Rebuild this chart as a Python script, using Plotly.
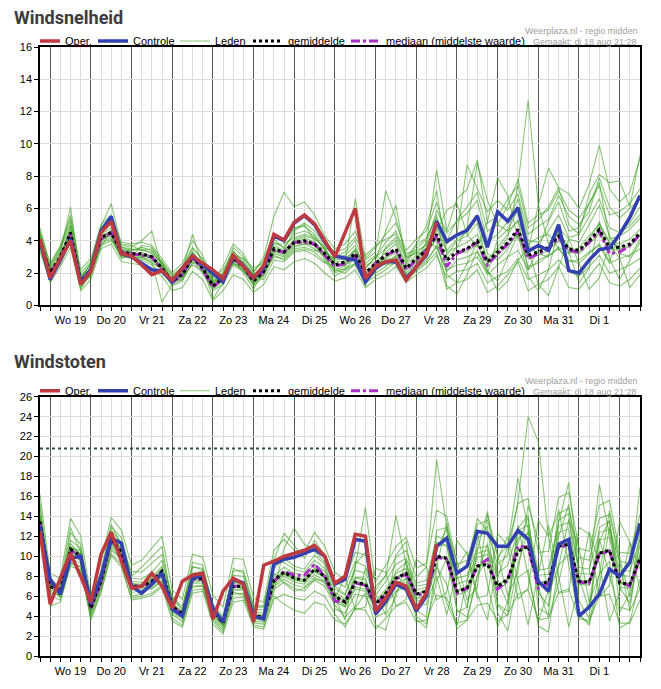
import pandas as pd
import plotly.graph_objects as go

# tijdstappen van 6 uur, di 18 aug 18:00 t/m wo 2 sep 12:00
start = "2020-08-18 18:00"
n_steps = 60
times = pd.date_range(start, periods=n_steps, freq="6h")

day_labels = ["Wo 19", "Do 20", "Vr 21", "Za 22", "Zo 23", "Ma 24", "Di 25",
              "Wo 26", "Do 27", "Vr 28", "Za 29", "Zo 30", "Ma 31", "Di 1"]
days = pd.date_range("2020-08-19", periods=len(day_labels), freq="D")

# ---- Windsnelheid (Bft) ----
speed_oper = [4.1, 1.7, 2.9, 4.0, 1.3, 2.1, 4.5, 5.2, 3.2, 3.05, 2.5, 1.9, 2.15, 1.55, 2.3, 3.05, 2.6, 2.2, 1.65, 3.1,
              2.4, 1.7, 2.45, 4.4, 4.05, 5.15, 5.6, 5.05, 4.0, 3.0, 4.5, 6.0, 1.65, 2.4, 2.7, 2.8, 1.55, 2.4, 3.2, 5.15]
speed_ctrl = [4.0, 1.6, 2.8, 4.1, 1.4, 2.2, 4.6, 5.5, 3.2, 3.0, 2.6, 2.2, 2.1, 1.45, 2.3, 3.05, 2.5, 2.0, 1.45, 3.05,
              2.45, 1.7, 2.3, 4.3, 4.0, 5.1, 5.55, 5.0, 3.9, 3.05, 2.9, 2.8, 1.45, 2.3, 2.7, 2.7, 1.65, 2.4, 3.1, 5.2,
              3.95, 4.35, 4.65, 5.55, 3.6, 5.8, 5.2, 6.05, 3.35, 3.7, 3.4, 5.0, 2.15, 2.0, 2.8, 3.45, 3.55, 4.4, 5.45, 6.8]
speed_mean = [4.0, 2.0, 3.0, 4.5, 1.5, 2.2, 4.2, 4.5, 3.3, 3.2, 3.2, 3.0, 2.3, 1.5, 1.9, 3.0, 2.3, 1.2, 1.7, 2.9,
              2.4, 1.5, 2.1, 3.5, 3.3, 3.9, 4.0, 3.8, 3.2, 2.5, 2.7, 3.2, 2.0, 2.6, 3.1, 3.5, 2.3, 2.9, 3.4, 4.4,
              2.8, 3.3, 3.5, 4.0, 2.7, 3.3, 3.9, 4.7, 3.1, 3.3, 3.6, 4.3, 3.5, 3.4, 4.0, 4.7, 3.6, 3.6, 3.8, 4.5]
speed_median = [4.0, 2.0, 3.0, 4.4, 1.5, 2.2, 4.1, 4.5, 3.3, 3.2, 3.1, 3.0, 2.2, 1.4, 1.9, 3.0, 2.2, 1.1, 1.7, 2.9,
                2.4, 1.5, 2.1, 3.4, 3.3, 3.9, 3.9, 3.8, 3.1, 2.4, 2.6, 3.1, 1.9, 2.6, 3.1, 3.4, 2.2, 2.8, 3.4, 4.3,
                2.4, 3.2, 3.5, 3.9, 2.5, 3.2, 3.8, 4.6, 2.9, 3.2, 3.5, 4.2, 3.4, 3.3, 3.9, 4.6, 3.2, 3.3, 3.7, 4.4]
speed_members = [
    [4.2, 2.3, 3.4, 5.0, 1.8, 2.5, 4.6, 5.1, 3.6, 3.5, 3.4, 3.3, 2.6, 1.8, 2.4, 3.6, 2.8, 1.5, 2.0, 3.4,
     2.6, 1.3, 2.5, 4.3, 4.0, 4.8, 4.9, 4.4, 3.6, 2.2, 2.0, 2.6, 1.4, 2.1, 3.6, 4.2, 2.9, 3.3, 3.0, 5.2,
     3.4, 4.1, 4.5, 5.4, 3.2, 2.8, 3.5, 4.6, 2.4, 2.6, 3.1, 4.8, 4.1, 3.9, 5.0, 6.2, 4.3, 3.2, 3.0, 4.1],
    [3.8, 1.7, 2.8, 4.1, 1.2, 1.9, 3.9, 4.2, 3.0, 2.9, 3.0, 2.8, 2.1, 1.2, 1.5, 2.7, 2.0, 0.9, 1.3, 2.5,
     2.1, 1.8, 1.6, 2.8, 2.7, 3.3, 3.4, 3.1, 2.6, 3.0, 3.3, 4.0, 2.6, 3.1, 2.6, 2.9, 1.8, 2.5, 4.0, 3.6,
     2.1, 2.8, 3.0, 3.3, 2.0, 4.1, 4.7, 5.9, 3.8, 4.2, 4.4, 3.5, 2.8, 2.6, 3.2, 3.8, 2.7, 4.5, 4.9, 5.6],
    [4.5, 2.6, 3.7, 5.6, 2.2, 2.9, 5.0, 5.6, 3.9, 3.8, 3.9, 3.7, 2.9, 2.0, 2.6, 4.0, 3.1, 1.6, 2.4, 3.8,
     3.2, 2.0, 3.0, 5.5, 7.0, 6.1, 6.4, 5.6, 4.3, 3.5, 3.8, 4.6, 2.9, 3.6, 4.4, 5.1, 3.4, 4.1, 4.6, 6.4,
     4.0, 5.3, 6.1, 7.0, 4.6, 5.0, 6.2, 7.8, 5.1, 5.6, 5.9, 7.1, 5.9, 5.4, 6.3, 7.4, 5.6, 5.8, 6.3, 7.2],
    [3.5, 1.4, 2.4, 3.6, 0.9, 1.6, 3.5, 3.8, 2.7, 2.6, 2.5, 2.2, 1.8, 0.9, 1.1, 2.1, 1.6, 0.3, 0.9, 1.9,
     1.6, 0.8, 1.3, 2.4, 2.2, 2.7, 2.9, 2.6, 2.0, 1.5, 1.7, 2.2, 1.1, 1.6, 1.9, 2.4, 1.4, 1.9, 2.3, 3.1,
     1.7, 2.1, 2.2, 2.6, 1.4, 1.8, 2.1, 2.9, 1.6, 1.9, 2.2, 2.8, 2.1, 1.8, 2.4, 3.1, 2.0, 2.2, 2.5, 2.9],
    [4.3, 2.0, 3.1, 4.7, 1.6, 2.4, 4.4, 4.8, 3.4, 3.4, 3.6, 3.4, 2.5, 1.6, 2.1, 3.3, 2.5, 1.4, 1.8, 3.1,
     2.9, 2.3, 2.6, 3.9, 3.6, 4.4, 4.6, 4.3, 3.4, 2.6, 2.4, 3.4, 2.3, 3.0, 3.9, 4.6, 3.2, 3.4, 3.7, 5.9,
     4.5, 5.2, 5.7, 6.5, 3.9, 4.4, 5.2, 6.6, 4.0, 3.9, 4.6, 5.6, 4.2, 4.4, 5.5, 6.6, 4.8, 4.5, 5.1, 6.1],
    [3.9, 1.9, 2.6, 4.3, 1.4, 2.0, 4.0, 4.4, 3.1, 3.0, 3.3, 3.0, 2.4, 1.4, 1.7, 2.9, 2.2, 1.1, 1.6, 2.7,
     2.2, 1.4, 1.9, 3.3, 3.1, 3.7, 3.8, 3.5, 3.0, 2.1, 2.5, 2.9, 1.7, 2.2, 2.8, 3.0, 2.0, 2.6, 3.2, 4.1,
     1.2, 0.7, 1.9, 3.4, 2.2, 0.9, 1.5, 2.8, 3.5, 1.3, 0.6, 2.4, 4.1, 2.6, 1.0, 1.7, 3.8, 2.9, 1.1, 1.9],
    [4.6, 2.2, 3.3, 6.1, 1.7, 2.6, 4.9, 6.3, 3.7, 3.6, 4.0, 4.6, 2.2, 1.3, 2.2, 4.4, 2.4, 0.4, 1.4, 3.0,
     2.0, 1.0, 2.2, 4.1, 3.5, 4.6, 5.0, 4.0, 2.8, 1.8, 2.2, 3.0, 1.2, 2.8, 4.6, 6.2, 2.7, 3.8, 4.9, 7.1,
     3.1, 4.0, 4.3, 5.1, 2.6, 3.6, 4.4, 5.3, 2.2, 3.5, 5.2, 6.4, 4.6, 4.8, 6.3, 7.6, 4.1, 4.3, 4.7, 5.4],
    [3.6, 1.5, 2.9, 4.4, 1.3, 1.8, 3.7, 4.0, 3.2, 3.1, 2.8, 2.5, 2.0, 1.5, 1.8, 2.5, 2.1, 1.3, 1.9, 2.8,
     2.5, 1.6, 2.0, 3.0, 2.9, 3.5, 3.6, 3.4, 3.3, 2.8, 2.9, 3.4, 2.5, 2.7, 2.5, 2.6, 1.5, 2.2, 2.7, 3.7,
     2.9, 3.6, 4.8, 8.8, 6.5, 5.0, 4.6, 5.2, 3.7, 3.2, 3.0, 3.6, 3.2, 3.6, 4.3, 5.0, 3.9, 3.6, 3.7, 4.4],
    [4.1, 2.1, 3.0, 4.6, 1.5, 2.3, 4.3, 4.6, 3.5, 3.3, 3.1, 3.1, 2.3, 1.7, 2.0, 3.1, 2.4, 1.2, 1.7, 3.0,
     2.5, 1.5, 2.1, 3.6, 3.3, 4.0, 4.2, 3.9, 3.2, 2.9, 3.1, 3.7, 2.2, 2.4, 3.0, 3.4, 2.2, 2.9, 3.6, 4.8,
     3.3, 3.6, 3.9, 4.4, 2.9, 3.4, 4.2, 7.5, 12.7, 6.2, 3.8, 4.6, 3.6, 3.3, 4.1, 5.1, 3.9, 3.8, 4.1, 4.7],
    [4.0, 2.4, 3.5, 5.2, 1.9, 2.2, 4.1, 4.3, 3.0, 3.0, 3.7, 3.6, 2.7, 1.5, 1.6, 2.6, 2.7, 1.7, 2.2, 3.3,
     2.8, 1.9, 2.4, 3.4, 3.2, 3.9, 4.1, 3.7, 3.5, 2.4, 2.6, 6.6, 2.8, 3.3, 7.1, 5.4, 3.0, 3.2, 3.8, 8.4,
     4.6, 6.6, 7.2, 9.0, 5.1, 5.5, 6.6, 7.4, 4.8, 5.3, 6.1, 7.3, 6.9, 6.0, 7.5, 9.9, 7.2, 6.4, 7.0, 9.1],
    [3.7, 1.8, 3.2, 4.2, 1.1, 2.1, 3.8, 4.1, 2.9, 3.2, 2.9, 2.7, 0.2, 1.3, 1.6, 3.0, 2.1, 1.0, 1.5, 2.6,
     2.3, 1.2, 1.8, 3.2, 3.0, 3.6, 3.8, 3.7, 3.0, 2.0, 2.3, 2.6, 1.6, 2.0, 2.4, 3.1, 1.9, 2.3, 2.8, 3.6,
     2.2, 2.5, 2.6, 3.0, 1.9, 2.5, 3.0, 3.4, 2.2, 2.8, 3.1, 3.5, 2.7, 2.8, 3.3, 3.7, 2.6, 2.9, 3.1, 3.5],
    [4.4, 2.1, 2.9, 4.9, 1.7, 2.6, 4.5, 5.0, 3.4, 3.0, 3.2, 2.9, 2.4, 1.6, 2.2, 3.3, 2.5, 1.3, 1.8, 2.9,
     2.4, 1.7, 2.3, 3.7, 3.4, 4.1, 4.3, 4.1, 3.6, 3.1, 2.8, 3.2, 2.0, 2.6, 3.3, 3.8, 2.5, 3.1, 3.5, 4.6,
     5.9, 6.3, 4.4, 3.6, 5.2, 7.9, 6.8, 4.1, 3.4, 6.2, 8.5, 7.3, 5.0, 4.4, 6.9, 8.1, 7.6, 7.7, 6.1, 9.3],
    [3.3, 1.6, 2.6, 3.9, 1.0, 2.0, 3.6, 4.7, 3.6, 3.4, 3.5, 3.2, 2.6, 1.4, 1.9, 2.8, 2.3, 1.4, 2.0, 2.6,
     2.1, 1.3, 1.9, 3.1, 2.8, 3.4, 3.5, 3.3, 2.7, 2.3, 2.2, 2.5, 1.4, 1.8, 2.2, 2.7, 1.6, 2.1, 2.6, 3.3,
     1.0, 1.4, 1.6, 2.2, 0.8, 1.2, 1.9, 2.7, 0.9, 1.3, 1.6, 2.4, 1.1, 1.0, 1.8, 2.6, 1.4, 1.2, 1.6, 2.3],
    [4.8, 2.5, 3.6, 5.4, 2.0, 2.7, 4.8, 5.4, 3.8, 3.7, 3.4, 3.5, 2.7, 1.9, 2.3, 3.5, 2.9, 1.5, 1.9, 3.6,
     3.0, 2.1, 2.8, 4.4, 3.9, 4.7, 5.1, 4.6, 3.8, 3.3, 3.5, 4.2, 3.1, 3.7, 4.1, 4.4, 3.0, 3.7, 4.2, 5.4,
     3.8, 4.4, 8.7, 7.2, 5.8, 6.5, 5.9, 6.9, 4.4, 4.9, 5.3, 6.8, 5.5, 5.0, 5.8, 7.9, 6.1, 5.4, 6.0, 6.6],
    [3.9, 1.6, 3.2, 4.4, 1.4, 2.3, 4.2, 4.6, 3.1, 3.3, 3.0, 2.6, 2.3, 1.6, 1.9, 3.2, 2.6, 1.2, 1.5, 2.9,
     2.7, 1.9, 2.4, 3.8, 3.8, 4.2, 4.4, 4.2, 3.5, 2.7, 2.7, 3.5, 2.3, 3.0, 3.5, 4.0, 2.6, 3.5, 4.1, 5.6,
     1.9, 1.4, 2.6, 3.9, 2.1, 1.5, 3.0, 4.4, 1.8, 0.9, 2.2, 4.7, 3.3, 1.4, 2.3, 5.2, 2.9, 1.6, 2.8, 3.9],
    [4.1, 1.9, 2.8, 4.5, 1.5, 2.2, 4.3, 4.5, 3.3, 3.1, 3.1, 2.9, 2.3, 1.5, 1.9, 2.9, 2.2, 1.1, 1.7, 2.8,
     2.4, 1.5, 2.1, 3.4, 3.2, 3.8, 3.9, 3.7, 3.1, 2.5, 2.6, 3.1, 1.9, 2.5, 2.9, 3.3, 2.2, 2.8, 3.3, 4.2,
     2.7, 3.2, 3.3, 3.8, 2.6, 3.1, 3.7, 4.4, 2.9, 3.1, 3.4, 4.0, 3.3, 3.2, 3.8, 4.4, 3.4, 3.5, 3.6, 4.3],
]

# ---- Windstoten (Bft) ----
gust_limit = 20.8
gust_oper = [12.5, 5.2, 7.8, 10.3, 8.0, 5.4, 10.2, 12.4, 9.5, 6.8, 7.0, 8.3, 7.0, 4.8, 7.5, 8.1, 8.3, 3.7, 6.5, 7.8,
             7.2, 3.4, 9.1, 9.5, 10.0, 10.3, 10.6, 11.1, 10.0, 7.3, 8.0, 12.2, 12.0, 4.5, 5.8, 7.4, 7.0, 4.7, 6.3, 11.2]
gust_ctrl = [13.0, 7.7, 6.2, 9.8, 10.0, 5.2, 8.0, 11.8, 11.3, 7.0, 6.3, 7.2, 8.3, 4.7, 4.0, 7.8, 8.1, 4.8, 3.4, 7.7,
             7.3, 4.0, 3.7, 9.2, 9.7, 9.9, 10.3, 10.7, 10.0, 7.2, 7.7, 11.7, 11.5, 4.2, 5.5, 7.2, 6.7, 4.5, 6.0, 11.0,
             11.8, 8.3, 9.0, 12.5, 12.3, 11.0, 11.0, 12.6, 11.7, 7.5, 6.5, 11.2, 11.7, 4.0, 4.9, 6.2, 8.7, 8.0, 9.4, 13.3]
gust_mean = [13.5, 7.0, 6.5, 10.7, 10.0, 4.8, 7.5, 11.7, 10.5, 7.0, 7.0, 7.5, 8.5, 5.0, 4.2, 7.8, 7.8, 4.5, 3.3, 7.0,
             7.0, 4.0, 3.9, 7.6, 8.4, 7.8, 7.6, 8.7, 8.0, 6.0, 5.4, 7.4, 7.2, 5.2, 6.3, 7.8, 8.3, 6.2, 6.5, 10.0,
             9.8, 6.5, 6.8, 9.0, 9.2, 7.0, 7.7, 10.5, 11.0, 7.3, 7.4, 11.0, 11.2, 7.5, 7.4, 10.3, 10.6, 7.3, 7.2, 9.8]
gust_median = [13.4, 7.0, 6.5, 10.6, 10.0, 4.8, 7.4, 11.6, 10.4, 7.0, 7.0, 7.4, 8.4, 5.0, 4.1, 7.7, 7.7, 4.5, 3.3, 7.0,
               7.0, 4.0, 3.9, 7.5, 8.5, 8.1, 8.1, 9.2, 8.0, 5.5, 5.5, 7.3, 7.1, 5.1, 6.2, 7.7, 8.2, 6.1, 6.3, 9.9,
               9.7, 6.3, 6.8, 9.0, 9.7, 6.7, 7.6, 11.0, 10.9, 6.8, 7.3, 10.9, 11.1, 7.4, 7.3, 10.2, 10.5, 7.5, 7.0, 9.7]
gust_members = [
    [14.2, 7.6, 7.0, 11.6, 10.8, 5.4, 8.2, 12.6, 11.4, 7.8, 7.7, 8.4, 9.6, 5.8, 5.0, 8.9, 8.8, 5.2, 4.0, 8.1,
     8.0, 4.7, 4.6, 8.8, 9.8, 9.0, 8.7, 10.1, 9.2, 7.0, 6.2, 8.6, 8.3, 6.1, 7.5, 9.2, 9.8, 7.3, 7.6, 12.0,
     11.6, 7.8, 8.1, 10.8, 11.0, 8.3, 9.1, 12.6, 13.1, 8.6, 8.8, 13.0, 13.4, 8.9, 8.7, 12.4, 12.7, 8.6, 8.5, 11.7],
    [12.8, 6.5, 6.0, 9.8, 9.3, 4.2, 6.9, 10.9, 9.7, 6.4, 6.5, 6.8, 7.6, 4.4, 3.6, 7.0, 7.1, 3.9, 2.8, 6.2,
     6.3, 3.5, 3.4, 6.7, 7.4, 6.8, 6.5, 7.6, 7.0, 5.1, 3.9, 5.0, 8.8, 6.2, 4.1, 5.9, 9.6, 4.0, 3.2, 7.5,
     9.8, 4.6, 3.9, 8.1, 11.3, 5.1, 4.0, 9.2, 12.6, 6.9, 3.8, 7.4, 11.8, 4.2, 3.1, 7.0, 12.9, 9.4, 4.5, 6.8],
    [16.2, 8.3, 7.8, 13.8, 12.1, 6.0, 9.4, 13.9, 12.6, 9.1, 9.6, 10.8, 12.0, 6.6, 5.7, 10.2, 9.9, 6.1, 4.9, 9.8,
     9.7, 5.8, 5.4, 10.6, 11.7, 10.6, 10.4, 12.4, 11.0, 8.4, 7.6, 10.4, 10.1, 7.5, 9.1, 11.0, 11.9, 8.8, 9.3, 14.6,
     14.0, 9.2, 9.6, 13.2, 13.6, 10.0, 11.0, 15.3, 15.8, 10.4, 10.5, 15.9, 16.4, 10.8, 10.5, 15.1, 15.6, 10.4, 10.3, 14.2],
    [13.1, 6.8, 6.3, 10.2, 9.6, 4.5, 7.1, 11.3, 10.1, 6.7, 6.6, 7.2, 8.1, 4.7, 3.9, 7.4, 7.5, 4.2, 3.1, 6.6,
     6.6, 3.7, 3.6, 7.2, 8.0, 7.4, 7.2, 8.2, 7.5, 5.6, 5.0, 6.9, 6.7, 4.8, 5.8, 7.3, 7.7, 5.7, 6.0, 9.3,
     5.3, 3.0, 7.6, 12.4, 7.2, 2.9, 5.5, 13.1, 8.0, 3.5, 6.6, 14.7, 9.1, 3.8, 5.2, 11.8, 8.1, 4.4, 6.3, 12.5],
    [13.7, 7.2, 6.8, 11.0, 10.3, 5.0, 7.7, 12.0, 10.8, 7.3, 7.2, 7.8, 8.8, 5.3, 4.4, 8.1, 8.1, 4.7, 3.5, 7.4,
     7.3, 4.2, 4.1, 8.0, 8.9, 8.3, 8.1, 9.2, 8.5, 6.4, 5.7, 7.8, 7.6, 5.5, 6.7, 8.3, 8.8, 6.6, 6.9, 10.6,
     12.8, 9.5, 5.6, 6.9, 14.2, 10.1, 6.0, 8.4, 15.1, 11.6, 6.2, 9.0, 13.7, 10.9, 5.4, 8.1, 14.6, 9.8, 5.9, 10.2],
    [12.3, 5.0, 5.4, 9.2, 9.0, 3.6, 6.4, 10.3, 9.2, 5.6, 5.8, 6.1, 6.9, 3.5, 2.9, 6.3, 6.5, 3.2, 2.2, 5.4,
     5.6, 2.9, 2.7, 5.7, 6.2, 5.8, 5.6, 6.5, 6.0, 4.2, 2.9, 4.8, 6.3, 3.1, 2.6, 6.4, 7.9, 3.7, 2.8, 8.9,
     7.2, 2.7, 3.6, 8.0, 9.9, 4.3, 2.5, 7.9, 8.6, 3.0, 2.4, 9.1, 10.2, 4.1, 3.3, 8.2, 9.5, 2.8, 3.4, 7.7],
    [14.8, 7.9, 6.6, 12.4, 11.2, 5.2, 8.6, 13.2, 11.0, 8.5, 8.4, 9.3, 10.2, 5.5, 4.8, 9.4, 9.1, 4.9, 3.8, 8.5,
     8.6, 5.1, 5.0, 9.6, 12.3, 11.1, 9.8, 11.6, 10.1, 7.5, 6.9, 9.5, 9.0, 6.6, 8.1, 9.9, 10.6, 7.9, 8.9, 19.7,
     12.9, 8.4, 8.9, 13.8, 12.5, 9.2, 10.1, 15.5, 24.0, 21.5, 12.0, 14.3, 14.8, 9.9, 9.6, 13.8, 14.2, 9.5, 9.3, 12.8],
    [13.3, 6.3, 6.1, 10.0, 9.9, 4.6, 7.3, 11.5, 10.3, 7.1, 6.9, 7.3, 8.3, 4.9, 4.0, 7.6, 7.6, 4.4, 3.2, 6.9,
     6.8, 3.9, 3.8, 7.4, 8.2, 7.6, 7.4, 8.5, 7.8, 5.8, 7.9, 4.6, 4.9, 8.8, 8.4, 5.0, 5.7, 9.7, 8.9, 5.6,
     6.4, 11.6, 10.2, 5.8, 6.1, 12.3, 11.1, 5.7, 6.8, 13.6, 12.0, 6.3, 6.5, 12.9, 12.2, 5.9, 7.1, 13.5, 11.4, 6.6],
    [14.0, 5.8, 7.4, 10.8, 10.6, 5.8, 7.9, 12.2, 11.1, 6.0, 6.2, 7.9, 9.0, 6.0, 4.6, 8.3, 8.5, 5.0, 3.0, 7.2,
     7.5, 4.4, 4.3, 8.3, 7.3, 6.5, 6.8, 7.7, 7.5, 6.0, 5.0, 7.9, 7.8, 4.6, 5.6, 8.5, 9.4, 5.8, 6.1, 11.2,
     11.0, 6.1, 6.5, 9.9, 10.2, 6.6, 7.4, 11.8, 12.3, 7.0, 7.1, 12.4, 12.7, 7.2, 7.1, 11.6, 11.9, 6.9, 6.8, 11.1],
    [12.5, 7.4, 5.8, 9.4, 8.9, 4.0, 6.7, 10.6, 9.8, 7.5, 7.4, 6.7, 7.5, 4.2, 3.4, 6.9, 7.0, 3.7, 2.6, 6.4,
     6.1, 3.3, 3.2, 6.5, 10.8, 12.8, 11.2, 10.5, 9.4, 4.7, 4.3, 6.2, 6.0, 4.2, 5.1, 6.5, 6.9, 4.9, 5.2, 8.0,
     4.1, 8.8, 10.5, 6.2, 3.6, 9.7, 12.0, 7.4, 3.1, 8.2, 13.1, 8.0, 2.9, 7.1, 12.5, 9.3, 3.5, 6.4, 11.4, 8.7],
    [15.3, 7.0, 7.2, 12.9, 10.4, 4.9, 8.0, 12.9, 11.9, 8.0, 8.9, 9.9, 11.0, 5.2, 4.5, 9.0, 8.6, 4.8, 3.4, 8.8,
     8.3, 4.9, 4.9, 9.3, 9.4, 8.7, 8.4, 9.6, 8.8, 6.7, 6.1, 8.9, 14.9, 7.0, 8.0, 14.1, 9.2, 7.0, 7.2, 11.4,
     11.1, 7.2, 7.6, 10.3, 10.6, 7.8, 11.0, 17.9, 12.7, 8.1, 8.2, 13.4, 17.4, 8.3, 8.2, 17.2, 12.2, 8.1, 8.0, 16.9],
    [12.9, 6.6, 6.4, 10.5, 9.5, 4.4, 7.4, 11.1, 10.0, 6.8, 6.8, 7.0, 7.9, 4.6, 3.8, 7.3, 7.3, 4.1, 3.0, 6.7,
     6.7, 3.8, 3.7, 7.0, 7.7, 7.1, 6.9, 7.9, 7.3, 5.4, 4.9, 6.7, 6.5, 4.7, 5.7, 7.0, 7.4, 5.5, 5.8, 8.9,
     13.4, 8.1, 4.8, 10.6, 14.5, 7.7, 5.2, 11.3, 13.9, 6.4, 5.0, 12.0, 15.2, 7.9, 4.6, 11.5, 13.6, 6.9, 5.3, 10.4],
    [13.9, 7.3, 6.9, 11.3, 10.1, 5.1, 7.6, 11.8, 10.6, 7.2, 7.1, 7.6, 8.6, 5.1, 4.3, 7.9, 7.9, 4.6, 3.4, 7.1,
     7.1, 4.1, 4.0, 7.7, 8.5, 7.9, 7.7, 8.8, 8.1, 6.1, 5.5, 7.5, 7.3, 5.3, 6.4, 7.9, 8.4, 6.3, 6.6, 10.1,
     9.9, 6.6, 6.9, 9.1, 9.3, 7.1, 7.8, 10.6, 11.1, 7.4, 7.5, 11.1, 11.3, 7.6, 7.5, 10.4, 10.7, 7.4, 7.3, 9.9],
    [13.4, 6.9, 6.7, 10.6, 9.8, 4.7, 7.3, 11.4, 10.2, 6.9, 6.9, 7.4, 8.4, 4.9, 4.1, 7.7, 7.7, 4.4, 3.2, 6.9,
     6.9, 3.9, 3.8, 7.5, 8.3, 7.7, 7.5, 8.6, 7.9, 5.9, 3.6, 9.2, 10.4, 3.9, 4.4, 10.1, 11.5, 4.6, 3.9, 12.6,
     12.9, 4.4, 4.9, 11.7, 13.0, 5.2, 4.5, 12.8, 14.1, 4.8, 4.2, 13.6, 14.3, 5.5, 3.8, 12.9, 13.5, 4.9, 4.6, 11.9],
    [12.0, 6.1, 5.6, 9.0, 8.6, 3.8, 6.4, 10.1, 8.9, 5.8, 6.0, 6.3, 7.1, 3.8, 3.1, 6.6, 6.7, 3.5, 2.4, 5.8,
     5.9, 3.1, 2.9, 6.0, 5.2, 4.6, 4.3, 5.4, 5.1, 3.6, 3.2, 4.8, 4.6, 2.7, 3.8, 5.0, 5.4, 3.4, 3.6, 6.1,
     5.8, 3.3, 3.6, 5.1, 5.3, 3.5, 4.2, 6.2, 6.6, 3.6, 3.8, 6.4, 6.7, 3.7, 3.6, 6.0, 6.2, 3.3, 3.3, 5.6],
    [13.6, 7.1, 6.6, 10.9, 10.2, 4.9, 7.6, 11.9, 10.7, 7.1, 7.0, 7.5, 8.5, 5.0, 4.2, 7.8, 7.8, 4.5, 3.3, 7.0,
     7.0, 4.0, 3.9, 7.6, 8.4, 7.8, 7.6, 8.7, 8.0, 6.0, 5.4, 7.4, 7.2, 5.2, 6.3, 7.8, 8.3, 6.2, 6.5, 10.0,
     9.8, 6.5, 6.8, 9.0, 9.2, 7.0, 7.7, 10.5, 11.0, 7.3, 7.4, 11.0, 11.2, 7.5, 7.4, 10.3, 10.6, 7.3, 7.2, 9.8],
]

for k, m in enumerate(speed_members + gust_members):
    if len(m) != n_steps:
        raise ValueError(f"member {k} has {len(m)} values")

red = "#bf3a40"
blue = "#3340b0"
magenta = "#a92fc6"
green = "rgba(60,160,30,0.6)"
font = "Liberation Sans"

# de pagina zet de grafiek 8px van de rand, dus alles 8px kleiner
W, H = 653, 681
top, bottom = 39, 29
plot_h = H - top - bottom


def py(fig_y):
    # figuurpixel (vanaf boven) -> paper-coordinaat
    return (H - bottom - fig_y) / plot_h


fig = go.Figure()


def add_panel(members, median, mean, ctrl, oper, xa, ya, legend):
    for k, m in enumerate(members):
        fig.add_trace(go.Scatter(x=times, y=m, mode="lines", name="Leden",
                                 line=dict(color=green, width=1.1),
                                 legendgroup=legend + "leden", showlegend=(k == 0),
                                 legendrank=3, legendwidth=43,
                                 xaxis=xa, yaxis=ya, legend=legend, hoverinfo="skip"))
    fig.add_trace(go.Scatter(x=times, y=median, mode="lines", name="mediaan (middelste waarde)",
                             line=dict(color=magenta, width=3, dash="dashdot"),
                             legendrank=5, xaxis=xa, yaxis=ya, legend=legend))
    fig.add_trace(go.Scatter(x=times, y=mean, mode="lines", name="gemiddelde",
                             line=dict(color="black", width=3, dash="dot"),
                             legendrank=4, legendwidth=68, xaxis=xa, yaxis=ya, legend=legend))
    fig.add_trace(go.Scatter(x=times, y=ctrl, mode="lines", name="Controle",
                             line=dict(color=blue, width=3.5),
                             legendrank=2, legendwidth=52, xaxis=xa, yaxis=ya, legend=legend))
    fig.add_trace(go.Scatter(x=times[:len(oper)], y=oper, mode="lines", name="Oper.",
                             line=dict(color=red, width=3.5),
                             legendrank=1, legendwidth=38, xaxis=xa, yaxis=ya, legend=legend))


add_panel(speed_members, speed_median, speed_mean, speed_ctrl, speed_oper, "x", "y", "legend")
add_panel(gust_members, gust_median, gust_mean, gust_ctrl, gust_oper, "x2", "y2", "legend2")

# Nederlandse dagnamen via labelalias op de Engelse d3-opmaak
alias = {d.strftime("%a ") + str(d.day): lab for d, lab in zip(days, day_labels)}
alias["Wed 2"] = ""

day_ms = 24 * 3600 * 1000
xstyle = dict(
    type="date", range=[times[0], times[-1]],
    tick0="2020-08-19", dtick=day_ms, ticklabelmode="period", tickformat="%a %-d",
    labelalias=alias, ticks="outside", ticklen=4, tickcolor="black",
    showgrid=True, gridcolor="#555555", gridwidth=1,
    minor=dict(tick0="2020-08-19", dtick=day_ms / 4, ticks="outside", ticklen=4,
               tickcolor="black", showgrid=True, gridcolor="#dcdcdc", gridwidth=1),
    showline=True, linecolor="black", linewidth=1.5, mirror=True,
    tickfont=dict(family=font, size=11, color="black"),
)
ystyle = dict(
    dtick=2, ticks="outside", ticklen=4, tickcolor="black",
    showgrid=True, gridcolor="#dcdcdc", zeroline=False,
    showline=True, linecolor="black", linewidth=1.5, mirror=True,
    tickfont=dict(family=font, size=11, color="black"),
)
legend_style = dict(orientation="h", x=0, xanchor="left", yanchor="middle", indentation=-15,
                    traceorder="normal", font=dict(family=font, size=11, color="black"),
                    bgcolor="rgba(0,0,0,0)", tracegroupgap=0)

fig.update_layout(
    width=W, height=H,
    margin=dict(l=28, r=21, t=top, b=bottom),
    paper_bgcolor="white", plot_bgcolor="white",
    xaxis=dict(xstyle, anchor="y"),
    yaxis=dict(ystyle, range=[0, 16], domain=[py(299), 1], anchor="x"),
    xaxis2=dict(xstyle, anchor="y2"),
    yaxis2=dict(ystyle, range=[0, 26], domain=[0, py(391)], anchor="x2"),
    legend=dict(legend_style, y=py(33)),
    legend2=dict(legend_style, y=py(385)),
    showlegend=True,
)

fig.add_shape(type="line", xref="x2 domain", x0=0, x1=1, yref="y2", y0=gust_limit, y1=gust_limit,
              line=dict(color="#2f4f4f", width=2, dash="dot"))

title_font = dict(family="Roboto", size=18, color="#3c3c3c", weight="bold")
stamp_font = dict(family=font, size=9, color="#a0a0a0")
for txt, fy in [("Windsnelheid", 9), ("Windstoten", 356)]:
    fig.add_annotation(text=txt, xref="paper", yref="paper", x=-0.0464, y=py(fy),
                       xanchor="left", yanchor="middle", showarrow=False, font=title_font)
for fy in [23, 375]:
    fig.add_annotation(text="Weerplaza.nl - regio midden", xref="paper", yref="paper", x=0.998, y=py(fy),
                       xanchor="right", yanchor="middle", showarrow=False, font=stamp_font)
    fig.add_annotation(text="Gemaakt: di 18 aug 21:28", xref="paper", yref="paper", x=0.998, y=py(fy + 11),
                       xanchor="right", yanchor="middle", showarrow=False, font=stamp_font)

fig.write_html("out.html")
